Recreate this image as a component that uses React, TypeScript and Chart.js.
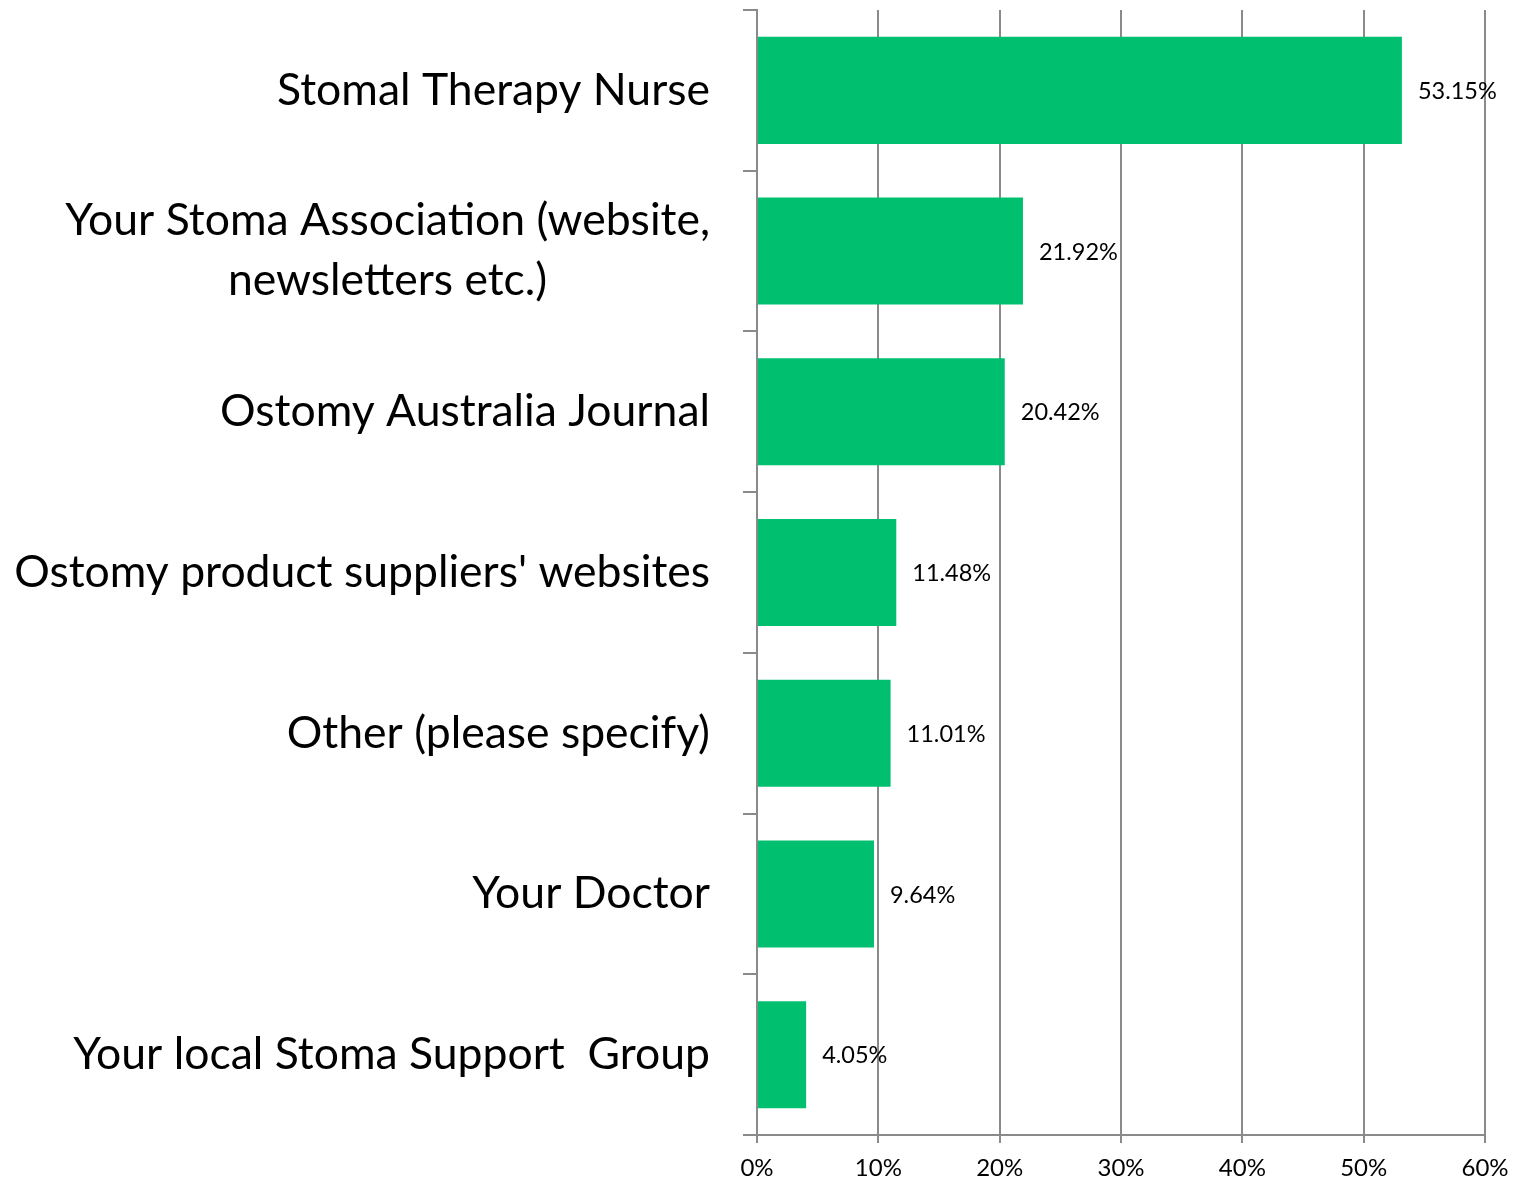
import React, { useEffect, useRef } from "react";
import { Chart, registerables } from "chart.js";

Chart.register(...registerables);

const categories: (string | string[])[] = [
  "Stomal Therapy Nurse",
  ["Your Stoma Association (website,", "newsletters etc.)"],
  "Ostomy Australia Journal",
  "Ostomy product suppliers' websites",
  "Other (please specify)",
  "Your Doctor",
  "Your local Stoma Support  Group",
];
const values = [53.15, 21.92, 20.42, 11.48, 11.01, 9.64, 4.05];
const xTicks = [0, 10, 20, 30, 40, 50, 60];

const FONT = "Lato, 'Open Sans', sans-serif";
const GREEN = "rgb(0,191,111)";
const GRID = "#8a8a8a";

const labelPlugin = {
  id: "customLabels",
  afterDraw(chart: any) {
    const ctx = chart.ctx;
    const ys = chart.scales.y;
    const xs = chart.scales.x;
    ctx.save();
    // category labels
    ctx.fillStyle = "#000";
    ctx.font = `44.5px ${FONT}`;
    ctx.textBaseline = "middle";
    ctx.textAlign = "center";
    const lineH = 60;
    const rightEdge = ys.right - 47;
    categories.forEach((lab, i) => {
      const lines = Array.isArray(lab) ? lab : [lab];
      const w = Math.max(...lines.map((l) => ctx.measureText(l).width));
      const cx = rightEdge - w / 2;
      const cy = ys.getPixelForValue(i);
      lines.forEach((l, j) => {
        const y = cy + (j - (lines.length - 1) / 2) * lineH;
        ctx.fillText(l, cx, y);
      });
    });
    // value labels
    ctx.font = `23.5px ${FONT}`;
    ctx.textAlign = "left";
    values.forEach((v, i) => {
      const x = xs.getPixelForValue(v) + 16;
      const y = ys.getPixelForValue(i) + 1;
      ctx.fillText(v.toFixed(2) + "%", x, y);
    });
    ctx.restore();
  },
};

export default function App() {
  const ref = useRef<HTMLCanvasElement | null>(null);
  useEffect(() => {
    if (!ref.current) return;
    const chart = new Chart(ref.current, {
      type: "bar",
      data: {
        labels: categories.map((c) => (Array.isArray(c) ? c.join(" ") : c)),
        datasets: [
          {
            data: values,
            backgroundColor: GREEN,
            borderWidth: 0,
            barPercentage: 0.666,
            categoryPercentage: 1,
          },
        ],
      },
      options: {
        indexAxis: "y",
        animation: false,
        responsive: false,
        devicePixelRatio: 1,
        layout: { padding: { top: 10, right: 29, left: 0, bottom: 0 } },
        plugins: {
          legend: { display: false },
          tooltip: { enabled: false },
        },
        scales: {
          x: {
            type: "linear",
            min: xTicks[0],
            max: xTicks[xTicks.length - 1],
            afterBuildTicks: (scale: any) => {
              scale.ticks = xTicks.map((v) => ({ value: v }));
            },
            afterFit: (scale: any) => {
              scale.height = 46;
              scale.paddingLeft = 0;
              scale.paddingRight = 0;
            },
            grid: {
              color: GRID,
              lineWidth: 2,
              tickLength: 8,
              drawTicks: true,
            },
            border: { display: true, color: GRID, width: 2 },
            ticks: {
              color: "#000",
              font: { family: FONT, size: 24 },
              padding: 11,
              callback: (v: any) => v + "%",
            },
          },
          y: {
            type: "category",
            afterFit: (scale: any) => {
              scale.width = 757;
            },
            grid: {
              offset: true,
              drawOnChartArea: false,
              drawTicks: true,
              tickLength: 14,
              color: GRID,
              lineWidth: 2,
            },
            border: { display: true, color: GRID, width: 2 },
            ticks: { display: false },
          },
        },
      },
      plugins: [labelPlugin],
    });
    return () => chart.destroy();
  }, []);
  return (
    <div style={{ position: "fixed", left: 0, top: 0, width: 1514, height: 1181, background: "#fff" }}>
      <canvas ref={ref} width={1514} height={1181} style={{ width: 1514, height: 1181 }} />
    </div>
  );
}
